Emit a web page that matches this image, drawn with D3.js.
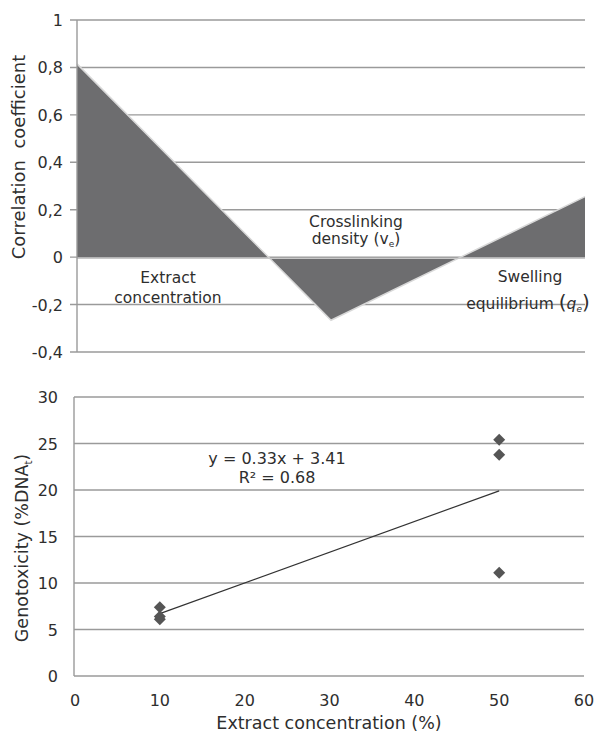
<!DOCTYPE html>
<html>
<head>
<meta charset="utf-8">
<script src="https://cdn.jsdelivr.net/npm/d3@7/dist/d3.min.js"></script>
<style>
  body { margin: 0; background: #fff; }
  svg { display: block; font-family: "DejaVu Sans", Verdana, sans-serif; }
  text { fill: #2e2e2e; }
</style>
</head>
<body>
<div id="chart"></div>
<script>
// top panel: correlation of each parameter
var corrCategories = ["Extract concentration", "Crosslinking density", "Swelling equilibrium"];
var corrValues = [0.815, -0.266, 0.255];
var corrTicks = [-0.4, -0.2, 0, 0.2, 0.4, 0.6, 0.8, 1];

// bottom panel: genotoxicity vs extract concentration
var extractConc = [10, 10, 10, 50, 50, 50];
var genotoxicity = [7.4, 6.4, 6.1, 25.4, 23.8, 11.1];
var genoTicksY = [0, 5, 10, 15, 20, 25, 30];
var genoTicksX = [0, 10, 20, 30, 40, 50, 60];
var trendSlope = 0.33, trendIntercept = 3.41, trendR2 = 0.68;

var width = 594, height = 734;
var gridColor = "#9a9a9a";

var svg = d3.select("#chart").append("svg").attr("width", width).attr("height", height);

function fmtComma(v) {
    return String(v).replace(".", ",");
}

// ---------- top panel ----------
var corrPanel = svg.append("g");
var xTop = d3.scalePoint().domain(corrCategories).range([77, 585]).padding(0);
var yTop = d3.scaleLinear().domain([-0.4, 1]).range([352, 20]);

corrPanel.selectAll("line.grid").data(corrTicks).enter().append("line")
    .attr("class", "grid")
    .attr("x1", 70).attr("x2", 585)
    .attr("y1", function(d){ return yTop(d); }).attr("y2", function(d){ return yTop(d); })
    .attr("stroke", gridColor).attr("stroke-width", 1.4);

corrPanel.selectAll("text.tick").data(corrTicks).enter().append("text")
    .attr("class", "tick")
    .attr("x", 63).attr("y", function(d){ return yTop(d) + 6; })
    .attr("text-anchor", "end").style("font-size", "16px")
    .text(function(d){ return fmtComma(d); });

var area = d3.area()
    .x(function(d, i){ return xTop(corrCategories[i]); })
    .y0(yTop(0))
    .y1(function(d){ return d; });
var yVals = corrValues.map(function(v){ return yTop(v); });

corrPanel.append("path").datum(yVals)
    .attr("d", area)
    .attr("fill", "#6d6d6f");

corrPanel.append("path").datum(yVals)
    .attr("d", d3.line().x(function(d, i){ return xTop(corrCategories[i]); }).y(function(d){ return d; }))
    .attr("fill", "none").attr("stroke", "#d8d8d8").attr("stroke-width", 1.5);

corrPanel.append("line")
    .attr("x1", xTop(corrCategories[0])).attr("x2", xTop(corrCategories[2]))
    .attr("y1", yTop(0) + 1).attr("y2", yTop(0) + 1)
    .attr("stroke", "#c8c8c8").attr("stroke-width", 1.5);

corrPanel.append("line")
    .attr("x1", 77).attr("x2", 77).attr("y1", yTop(1)).attr("y2", yTop(-0.4))
    .attr("stroke", gridColor).attr("stroke-width", 1.4);

corrPanel.append("text")
    .attr("transform", "translate(25,157) rotate(-90)")
    .attr("text-anchor", "middle").style("font-size", "18px")
    .attr("xml:space", "preserve")
    .text("Correlation  coefficient");

// category labels
var lab = corrPanel.append("g").style("font-size", "15.5px").attr("text-anchor", "middle");
lab.append("text").attr("x", 168).attr("y", 283).text("Extract");
lab.append("text").attr("x", 168).attr("y", 303).text("concentration");

lab.append("text").attr("x", 356).attr("y", 227).text("Crosslinking");
var t2 = lab.append("text").attr("x", 356).attr("y", 244);
t2.append("tspan").text("density (v");
t2.append("tspan").attr("dy", 3).style("font-size", "9px").text("e");
t2.append("tspan").attr("dy", -3).text(")");

lab.append("text").attr("x", 530).attr("y", 282).text("Swelling");
var t3 = lab.append("text").attr("x", 528).attr("y", 309);
t3.append("tspan").text("equilibrium ");
t3.append("tspan").style("font-size", "20px").text("(");
t3.append("tspan").style("font-style", "italic").text("q");
t3.append("tspan").attr("dy", 3).style("font-size", "9px").style("font-style", "italic").text("e");
t3.append("tspan").attr("dy", -3).style("font-size", "20px").text(")");

// ---------- bottom panel ----------
var genoPanel = svg.append("g");
var xBot = d3.scaleLinear().domain([0, 60]).range([75, 584]);
var yBot = d3.scaleLinear().domain([0, 30]).range([676, 397]);

genoPanel.selectAll("line.grid").data(genoTicksY).enter().append("line")
    .attr("class", "grid")
    .attr("x1", xBot(0) - 1).attr("x2", xBot(60))
    .attr("y1", function(d){ return yBot(d); }).attr("y2", function(d){ return yBot(d); })
    .attr("stroke", gridColor).attr("stroke-width", 1.4);

genoPanel.append("line")
    .attr("x1", xBot(0) - 1).attr("x2", xBot(0) - 1).attr("y1", yBot(30)).attr("y2", yBot(0))
    .attr("stroke", gridColor).attr("stroke-width", 1.4);

genoPanel.selectAll("text.ytick").data(genoTicksY).enter().append("text")
    .attr("class", "ytick")
    .attr("x", 58).attr("y", function(d){ return yBot(d) + 6; })
    .attr("text-anchor", "end").style("font-size", "16px")
    .text(function(d){ return d; });

genoPanel.selectAll("text.xtick").data(genoTicksX).enter().append("text")
    .attr("class", "xtick")
    .attr("x", function(d){ return xBot(d); }).attr("y", 706)
    .attr("text-anchor", "middle").style("font-size", "16px")
    .text(function(d){ return d; });

genoPanel.append("text")
    .attr("x", 329).attr("y", 729)
    .attr("text-anchor", "middle").style("font-size", "17.5px")
    .text("Extract concentration (%)");

var yl = genoPanel.append("text")
    .attr("transform", "translate(28,548) rotate(-90)")
    .attr("text-anchor", "middle").style("font-size", "17.5px");
yl.append("tspan").text("Genotoxicity (%DNA");
yl.append("tspan").attr("dy", 4).style("font-size", "10px").text("t");
yl.append("tspan").attr("dy", -4).text(")");

// trend line
genoPanel.append("line")
    .attr("x1", xBot(10)).attr("y1", yBot(trendSlope * 10 + trendIntercept))
    .attr("x2", xBot(50)).attr("y2", yBot(trendSlope * 50 + trendIntercept))
    .attr("stroke", "#333").attr("stroke-width", 1.2);

genoPanel.selectAll("path.pt").data(extractConc).enter().append("path")
    .attr("class", "pt")
    .attr("d", d3.symbol().type(d3.symbolSquare).size(72))
    .attr("transform", function(d, i){ return "translate(" + xBot(d) + "," + yBot(genotoxicity[i]) + ") rotate(45)"; })
    .attr("fill", "#555");

var eq = genoPanel.append("g").attr("text-anchor", "middle").style("font-size", "16px");
eq.append("text").attr("x", 277).attr("y", 464)
    .text("y = " + trendSlope.toFixed(2) + "x + " + trendIntercept.toFixed(2));
eq.append("text").attr("x", 277).attr("y", 483)
    .text("R² = " + trendR2.toFixed(2));
</script>
</body>
</html>
